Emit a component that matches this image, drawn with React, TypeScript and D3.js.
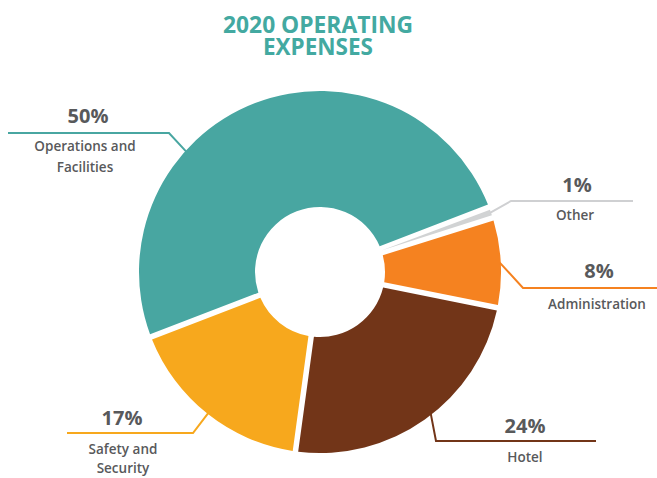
import React from "react";
import * as d3 from "d3";

const titleLines = ["2020 OPERATING", "EXPENSES"];
const categories = ["Other", "Administration", "Hotel", "Safety and Security", "Operations and Facilities"];
const nameLines = [["Other"], ["Administration"], ["Hotel"], ["Safety and", "Security"], ["Operations and", "Facilities"]];
const values = [1, 8, 24, 17, 50];
const colors = ["#d1d3d4", "#f58220", "#723518", "#f7a81d", "#48a6a1"];
const lineColors = ["#cfd0d2", "#f58220", "#723518", "#f7a81d", "#48a6a1"];

// layout of labels (positions, not data)
const layout = [
  { anchorFrac: 0.5, elbow: [511, 201], endX: 633, pctX: 577, pctY: 192, nameX: 575, nameY: [220] },
  { anchorFrac: 0.5, elbow: [523, 288], endX: 657, pctX: 599, pctY: 278, nameX: 597, nameY: [309] },
  { anchorFrac: 0.47, elbow: [436, 441], endX: 596, pctX: 525, pctY: 433, nameX: 525, nameY: [462] },
  { anchorFrac: 0.5, elbow: [193, 433], endX: 67, pctX: 122, pctY: 425, nameX: 123, nameY: [454, 473] },
  { anchorFrac: 0.35, elbow: [169, 133], endX: 8, pctX: 88, pctY: 123, nameX: 85, nameY: [151, 172] },
];

const W = 657;
const H = 478;
const cx = 320;
const cy = 272;
const outerR = 181;
const innerR = 65;
const startDeg = 69;

export default function App() {
  const pie = d3
    .pie<number>()
    .sort(null)
    .value((d) => d)
    .startAngle((startDeg * Math.PI) / 180)
    .endAngle((startDeg * Math.PI) / 180 + 2 * Math.PI);
  const arcs = pie(values);
  const arcGen = d3
    .arc<d3.PieArcDatum<number>>()
    .innerRadius(innerR)
    .outerRadius(outerR)
    .padAngle(0.03)
    .padRadius(5.5 / 0.03);

  const total = d3.sum(values);
  const textColor = "#58595b";
  const font = "'Open Sans', 'Noto Sans', sans-serif";

  return (
    <svg
      width={W}
      height={H}
      style={{ position: "absolute", left: 0, top: 0, display: "block", background: "#fff" }}
    >
      <g fontFamily={font} fill="#43a9a1" fontWeight={700} textAnchor="middle">
        <text x={318} y={33} fontSize={24} textLength={190} lengthAdjust="spacingAndGlyphs">
          {titleLines[0]}
        </text>
        <text x={318} y={55} fontSize={24} textLength={110} lengthAdjust="spacingAndGlyphs">
          {titleLines[1]}
        </text>
      </g>
      <g transform={`translate(${cx},${cy})`}>
        {arcs.map((a, i) => (
          <path key={categories[i]} d={arcGen(a) || ""} fill={colors[i]} />
        ))}
      </g>
      {arcs.map((a, i) => {
        const L = layout[i];
        const ang = a.startAngle + (a.endAngle - a.startAngle) * L.anchorFrac;
        const r = outerR - 1;
        const sx = cx + r * Math.sin(ang);
        const sy = cy - r * Math.cos(ang);
        const pct = Math.round((values[i] / total) * 100) + "%";
        return (
          <g key={"lbl" + i} fontFamily={font} textAnchor="middle" fill={textColor}>
            <polyline
              points={`${sx},${sy} ${L.elbow[0]},${L.elbow[1]} ${L.endX},${L.elbow[1]}`}
              fill="none"
              stroke={lineColors[i]}
              strokeWidth={2}
            />
            <text x={L.pctX} y={L.pctY} fontSize={20} fontWeight={700}>
              {pct}
            </text>
            {nameLines[i].map((t, j) => (
              <text key={j} x={L.nameX} y={L.nameY[j]} fontSize={13.5} fontWeight={600}>
                {t}
              </text>
            ))}
          </g>
        );
      })}
    </svg>
  );
}
